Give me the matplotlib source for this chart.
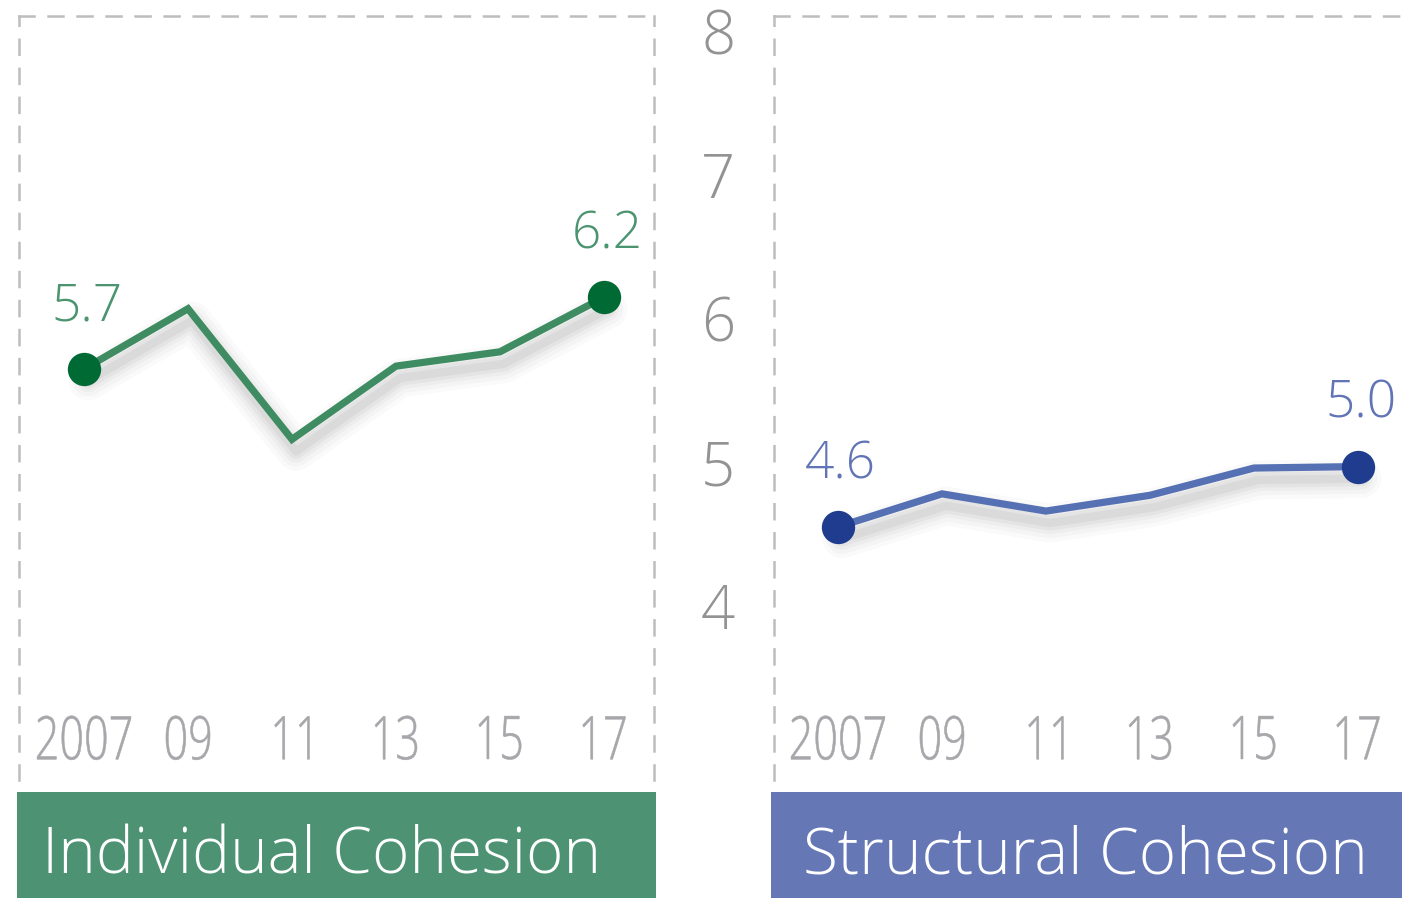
import matplotlib
matplotlib.use("Agg")
import matplotlib.pyplot as plt
from matplotlib.patches import Rectangle, PathPatch
from matplotlib.textpath import TextPath
from matplotlib.font_manager import FontProperties
import matplotlib.transforms as mtransforms

# cohesion index, 2007-2017
years = ["2007", "09", "11", "13", "15", "17"]
individual = [5.7, 6.12, 5.21, 5.72, 5.82, 6.2]
structural = [4.6, 4.83, 4.71, 4.82, 5.01, 5.02]
yticks = [4, 5, 6, 7, 8]
titles = ["Individual Cohesion", "Structural Cohesion"]

W, H = 1402, 899
DPI = 100
plt.rcParams["lines.scale_dashes"] = False

LIGHT = ["Open Sans", "DejaVu Sans"]
light_fp = FontProperties(family="Open Sans", weight="light")

fig = plt.figure(figsize=(W / DPI, H / DPI), dpi=DPI)
fig.patch.set_facecolor("white")


def px_box(x0, y0, x1, y1):
    return [x0 / W, 1 - y1 / H, (x1 - x0) / W, (y1 - y0) / H]


def narrow_text(ax, x, y, s, size, squeeze, color):
    """Horizontally condensed label centred on a data point."""
    tp = TextPath((0, 0), s, size=size, prop=light_fp)
    ext = tp.get_extents()
    cx = (ext.x0 + ext.x1) / 2
    cy = (ext.y0 + ext.y1) / 2
    tr = (mtransforms.Affine2D().translate(-cx, -cy).scale(squeeze, 1)
          + mtransforms.ScaledTranslation(x, y, ax.transData))
    ax.add_patch(PathPatch(tp, transform=tr, facecolor=color,
                           edgecolor=color, lw=0.4, clip_on=False))


panels = [
    dict(box=(19, 16, 654, 780), xlim=(-0.625, 5.481), vals=individual,
         line="#3f8c63", dot="#006a35", lab="#4b9470", band="#4d9373",
         band_px=(17, 792, 656, 898), text_x=42, right=True),
    dict(box=(774, 16, 1402, 780), xlim=(-0.615, 5.423), vals=structural,
         line="#5670b4", dot="#1f3c8e", lab="#6174b6", band="#6677b5",
         band_px=(771, 792, 1402, 898), text_x=803, right=False),
]

ylim = (2.836, 8.160)
dash = (0, (10.8, 10.1))

axes = []
for i, p in enumerate(panels):
    ax = fig.add_axes(px_box(*p["box"]))
    ax.set_xlim(*p["xlim"])
    ax.set_ylim(*ylim)
    ax.set_xticks([])
    ax.set_yticks([])
    ax.patch.set_alpha(0)
    for side in ["left", "top", "right"]:
        sp = ax.spines[side]
        sp.set_color("#bdbdbd")
        sp.set_linewidth(1.8)
        sp.set_linestyle(dash)
    ax.spines["bottom"].set_visible(False)
    if not p["right"]:
        ax.spines["right"].set_visible(False)

    xs = list(range(len(years)))
    vals = p["vals"]

    # soft drop shadow under the line
    for lw, a in [(28, 0.018), (22, 0.022), (16, 0.028), (11, 0.035), (6, 0.045)]:
        tr = mtransforms.offset_copy(ax.transData, fig=fig, x=4, y=-12, units="dots")
        ax.plot(xs, vals, color="black", lw=lw, alpha=a, transform=tr,
                solid_capstyle="round", solid_joinstyle="round", zorder=1)

    ax.plot(xs, vals, color=p["line"], lw=5.2, solid_joinstyle="miter", zorder=2)
    ax.plot([xs[0], xs[-1]], [vals[0], vals[-1]], "o", color=p["dot"],
            markersize=24, markeredgewidth=0, zorder=3)

    for j in (0, -1):
        ax.annotate(f"{vals[j]:.1f}", (xs[j], vals[j]), xytext=(2, 45),
                    textcoords="offset points", ha="center", va="center",
                    color=p["lab"], fontsize=37, family=LIGHT,
                    fontweight="light")

    for x, lab in zip(xs, years):
        narrow_text(ax, x, 3.13, lab, 60, 0.72, "#a7a7ab")

    # title band
    bx0, by0, bx1, by1 = p["band_px"]
    fig.add_artist(Rectangle((bx0 / W, 1 - by1 / H), (bx1 - bx0) / W,
                             (by1 - by0) / H, transform=fig.transFigure,
                             facecolor=p["band"], edgecolor="none"))
    fig.text(p["text_x"] / W, 1 - 874 / H, titles[i], ha="left",
             va="baseline", color="white", fontsize=46, family=LIGHT,
             fontweight="light")
    axes.append(ax)

# shared value scale between the panels
ax0 = axes[0]
for v in yticks:
    ax0.text(1.101, v, str(v), transform=ax0.get_yaxis_transform(),
             ha="center", va="center", color="#939393", fontsize=43,
             family=LIGHT, fontweight="light", clip_on=False)

fig.savefig("out.png", dpi=DPI)
